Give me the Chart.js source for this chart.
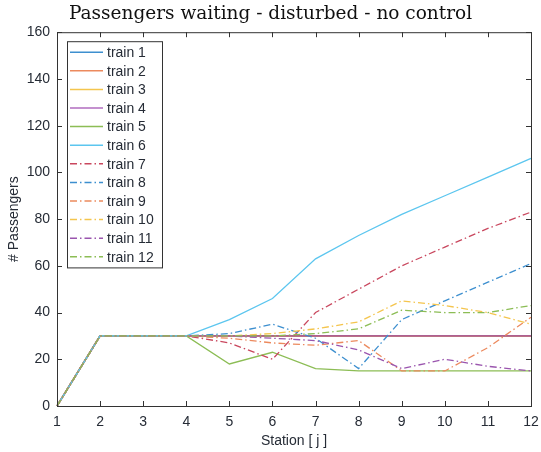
<!DOCTYPE html>
<html>
<head>
<meta charset="utf-8">
<script src="https://cdn.jsdelivr.net/npm/chart.js@4.4.1/dist/chart.umd.min.js"></script>
<style>
  html, body { margin: 0; padding: 0; background: #fff; }
  #wrap { width: 541px; height: 452px; }
</style>
</head>
<body>
<div id="wrap"><canvas id="waitChart"></canvas></div>
<script>
// stations on the x axis
const stations = ['1', '2', '3', '4', '5', '6', '7', '8', '9', '10', '11', '12'];

// passengers waiting per train
const train1 = [0, 30, 30, 30, 30, 30, 30, 30, 30, 30, 30, 30];
const train2 = [0, 30, 30, 30, 30, 30, 30, 30, 30, 30, 30, 30];
const train3 = [0, 30, 30, 30, 30, 30, 30, 30, 30, 30, 30, 30];
const train4 = [0, 30, 30, 30, 30, 30, 30, 30, 30, 30, 30, 30];
const train5 = [0, 30, 30, 30, 18, 23, 16, 15, 15, 15, 15, 15];
const train6 = [0, 30, 30, 30, 37, 46, 63, 73, 82, 90, 98, 106];
const train7 = [0, 30, 30, 30, 27, 20, 40, 50, 60, 68, 76, 83];
const train8 = [0, 30, 30, 30, 31, 35, 29, 16, 37, 45, 53, 61];
const train9 = [0, 30, 30, 30, 29, 27, 26, 28, 15, 15, 25, 38];
const train10 = [0, 30, 30, 30, 30, 31, 33, 36, 45, 43, 40, 35];
const train11 = [0, 30, 30, 30, 30, 29, 28, 24, 16, 20, 17, 15];
const train12 = [0, 30, 30, 30, 30, 30, 31, 33, 41, 40, 40, 43];

const series = [train1, train2, train3, train4, train5, train6,
                train7, train8, train9, train10, train11, train12];

// matlab-ish palette, a bit washed out like the scan
// (train 4 slightly see-through so the shared flat line comes out mauve)
const colors = ['#3d8fcf', '#ec8a5e', '#f4c54e', 'rgba(150,60,170,0.75)', '#8cbd55', '#5cc6ef',
                '#c9475e', '#3d8fcf', '#ec8a5e', '#f4c54e', '#9a55ae', '#8cbd55'];
const dashDot = [7, 3, 1.5, 3];
const textColor = '#262c36';
const sansFont = '"Liberation Sans", Arial, sans-serif';

const datasets = series.map((vals, i) => ({
    label: 'train ' + (i + 1),
    data: vals,
    borderColor: colors[i],
    backgroundColor: colors[i],
    borderWidth: i < 4 ? 1.6 : 1.3,
    borderDash: i >= 6 ? dashDot : [],
    pointRadius: 0,
    tension: 0,
    fill: false,
    order: series.length - 1 - i   // later trains drawn on top, like matlab
}));

// box round the axes with inward ticks on all four sides
const axesBox = {
    id: 'axesBox',
    afterDatasetsDraw(chart) {
        const { ctx, chartArea: a, scales } = chart;
        ctx.save();
        ctx.strokeStyle = '#333';
        ctx.lineWidth = 1;
        ctx.strokeRect(a.left + 0.5, a.top + 0.5, a.right - a.left, a.bottom - a.top);
        const len = 5;
        ctx.beginPath();
        scales.x.ticks.forEach((t, i) => {
            const px = Math.round(scales.x.getPixelForTick(i)) + 0.5;
            ctx.moveTo(px, a.bottom); ctx.lineTo(px, a.bottom - len);
            ctx.moveTo(px, a.top); ctx.lineTo(px, a.top + len);
        });
        scales.y.ticks.forEach((t) => {
            const py = Math.round(scales.y.getPixelForValue(t.value)) + 0.5;
            ctx.moveTo(a.left, py); ctx.lineTo(a.left + len, py);
            ctx.moveTo(a.right, py); ctx.lineTo(a.right - len, py);
        });
        ctx.stroke();
        ctx.restore();
    }
};

// legend box in the upper left corner of the plot
const innerLegend = {
    id: 'innerLegend',
    afterDraw(chart) {
        const { ctx, chartArea: a } = chart;
        const x0 = a.left + 10, y0 = a.top + 9;
        const rowH = 18.6, w = 95;
        const h = rowH * chart.data.datasets.length + 3;
        ctx.save();
        ctx.fillStyle = '#fff';
        ctx.fillRect(x0, y0, w, h);
        ctx.strokeStyle = '#333';
        ctx.lineWidth = 1;
        ctx.strokeRect(x0 + 0.5, y0 + 0.5, w, h);
        ctx.font = '14px ' + sansFont;
        ctx.textBaseline = 'middle';
        chart.data.datasets.forEach((ds, i) => {
            const y = y0 + 11 + i * rowH;
            ctx.strokeStyle = ds.borderColor;
            ctx.lineWidth = 1.5;
            ctx.setLineDash(ds.borderDash);
            ctx.beginPath();
            ctx.moveTo(x0 + 3, y);
            ctx.lineTo(x0 + 36, y);
            ctx.stroke();
            ctx.setLineDash([]);
            ctx.fillStyle = textColor;
            ctx.fillText(ds.label, x0 + 40, y + 1);
        });
        ctx.restore();
    }
};

new Chart(document.getElementById('waitChart'), {
    type: 'line',
    data: { labels: stations, datasets: datasets },
    options: {
        responsive: true,
        maintainAspectRatio: false,
        animation: false,
        layout: { padding: { top: 0, right: 0, left: 0, bottom: 0 } },
        plugins: {
            legend: { display: false },
            tooltip: { enabled: false },
            title: {
                display: true,
                text: 'Passengers waiting - disturbed - no control',
                color: '#111',
                font: { family: '"DejaVu Serif", serif', size: 18.5, weight: 'normal' },
                padding: { top: 3, bottom: 7 }
            }
        },
        scales: {
            x: {
                offset: false,
                grid: { display: false, drawTicks: false },
                border: { display: false },
                ticks: {
                    color: textColor,
                    padding: 8,
                    maxRotation: 0,
                    font: { family: sansFont, size: 14 }
                },
                title: {
                    display: true,
                    text: 'Station [ j ]',
                    color: textColor,
                    padding: { top: 0, bottom: 2 },
                    font: { family: sansFont, size: 14 }
                },
                afterFit(scale) {
                    scale.height = 46;
                    scale.paddingRight = 10;
                    scale.paddingLeft = 0;
                }
            },
            y: {
                min: 0,
                max: 160,
                grid: { display: false, drawTicks: false },
                border: { display: false },
                ticks: {
                    stepSize: 20,
                    color: textColor,
                    padding: 7,
                    font: { family: sansFont, size: 14 }
                },
                title: {
                    display: true,
                    text: '# Passengers',
                    color: textColor,
                    padding: { top: 6, bottom: 0 },
                    font: { family: sansFont, size: 14 }
                },
                afterFit(scale) { scale.width = 57; }
            }
        }
    },
    plugins: [axesBox, innerLegend]
});
</script>
</body>
</html>
